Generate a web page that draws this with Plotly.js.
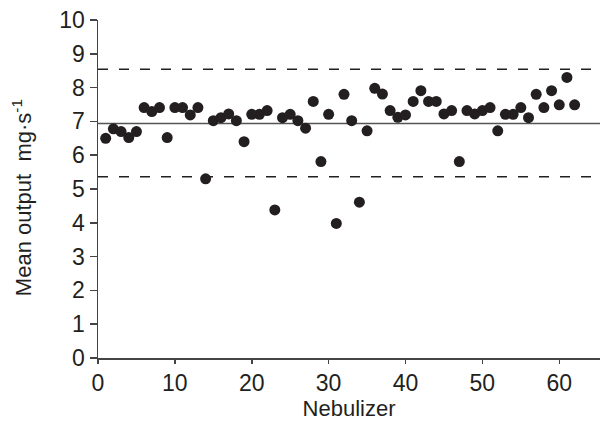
<!DOCTYPE html>
<html>
<head>
<meta charset="utf-8">
<script src="https://cdn.plot.ly/plotly-3.0.1.min.js"></script>
<style>html,body{margin:0;padding:0;background:#fff;}#chart{width:601px;height:423px;}</style>
</head>
<body>
<div id="chart"></div>
<script>
const nebulizer = [];
for (let i = 1; i <= 62; i++) nebulizer.push(i);
const meanOutput = [
  6.50, 6.78, 6.70, 6.52, 6.70, 7.41, 7.29, 7.41, 6.52, 7.41,
  7.41, 7.19, 7.41, 5.30, 7.02, 7.11, 7.22, 7.02, 6.40, 7.21,
  7.21, 7.32, 4.38, 7.11, 7.21, 7.02, 6.80, 7.59, 5.81, 7.21,
  3.98, 7.80, 7.02, 4.61, 6.72, 7.98, 7.81, 7.32, 7.12, 7.19,
  7.59, 7.91, 7.59, 7.59, 7.22, 7.32, 5.81, 7.32, 7.22, 7.32,
  7.41, 6.72, 7.21, 7.21, 7.41, 7.11, 7.80, 7.41, 7.91, 7.49,
  8.30, 7.49
];
const meanLine = 6.94;
const upperLimit = 8.54;
const lowerLimit = 5.36;
const xTicks = [0, 10, 20, 30, 40, 50, 60];
const yTicks = [0, 1, 2, 3, 4, 5, 6, 7, 8, 9, 10];
const xTitle = 'Nebulizer';
const yTitle = 'Mean output&nbsp; mg·s<sup>-1</sup>';

const FONT = '"Liberation Sans", Arial, Helvetica, sans-serif';
const INK = '#231f20';

const trace = {
  x: nebulizer, y: meanOutput, type: 'scatter', mode: 'markers',
  marker: {color: INK, size: 11, line: {width: 0}},
  hoverinfo: 'x+y', showlegend: false
};

const hline = (y, dash, color) => ({
  type: 'line', xref: 'paper', yref: 'y', x0: 0, x1: 1, y0: y, y1: y,
  line: {color: color, width: 1.5, dash: dash}, layer: 'below'
});

const layout = {
  width: 601, height: 423,
  margin: {l: 98, r: 1, t: 20, b: 65},
  paper_bgcolor: '#fff', plot_bgcolor: '#fff',
  font: {family: FONT, size: 22, color: INK},
  xaxis: {
    range: [0, 65.3], tickvals: xTicks, ticktext: xTicks.map(String),
    ticks: 'outside', ticklen: 4, tickwidth: 1.5, tickcolor: '#444',
    showline: true, linecolor: '#444', linewidth: 1.5,
    showgrid: false, zeroline: false,
    tickfont: {family: FONT, size: 23, color: INK},
    title: {text: xTitle, font: {family: FONT, size: 22, color: INK}, standoff: 4},
    automargin: false
  },
  yaxis: {
    range: [0, 10], tickvals: yTicks, ticktext: yTicks.map(String),
    ticks: 'outside', ticklen: 7, tickwidth: 1.5, tickcolor: '#444',
    showline: true, linecolor: '#444', linewidth: 1.5,
    showgrid: false, zeroline: false,
    tickfont: {family: FONT, size: 23, color: INK},
    automargin: false
  },
  annotations: [{
    text: yTitle, textangle: -90, showarrow: false,
    xref: 'paper', yref: 'paper', x: 0, y: 0.473,
    xanchor: 'center', yanchor: 'middle', xshift: -76,
    font: {family: FONT, size: 22, color: INK}
  }],
  shapes: [
    hline(meanLine, 'solid', '#555'),
    hline(upperLimit, '10px,11px', INK),
    hline(lowerLimit, '10px,11px', INK)
  ]
};

Plotly.newPlot('chart', [trace], layout, {displayModeBar: false, staticPlot: true});
</script>
</body>
</html>
